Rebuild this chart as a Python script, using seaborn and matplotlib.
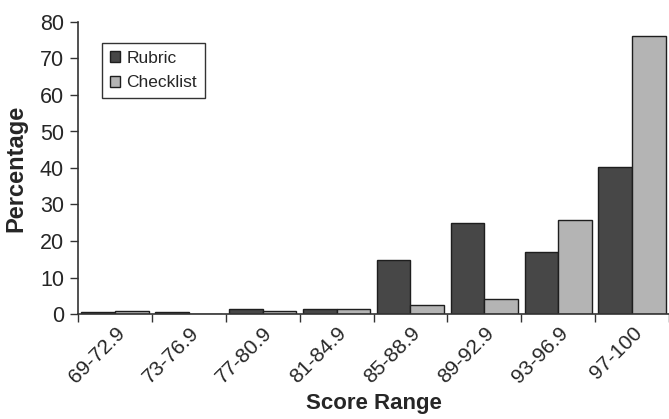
import matplotlib
matplotlib.use("Agg")
import matplotlib.pyplot as plt
import seaborn as sns
import pandas as pd
import numpy as np

# Score ranges and percentage of students in each range
score_ranges = ["69-72.9", "73-76.9", "77-80.9", "81-84.9",
                "85-88.9", "89-92.9", "93-96.9", "97-100"]
rubric = [0.6, 0.6, 1.3, 1.5, 14.7, 24.9, 17.0, 40.2]
checklist = [0.9, 0.0, 0.8, 1.5, 2.4, 4.0, 25.8, 76.2]
y_ticks = [0, 10, 20, 30, 40, 50, 60, 70, 80]

df = pd.DataFrame({
    "Score Range": score_ranges * 2,
    "Percentage": rubric + checklist,
    "Method": ["Rubric"] * len(score_ranges) + ["Checklist"] * len(score_ranges),
})

sns.set_style("white")
plt.rcParams["font.family"] = ["Liberation Sans", "DejaVu Sans"]

W, H = 669, 419
fig = plt.figure(figsize=(W / 100, H / 100), dpi=100)
ax = fig.add_axes([78 / W, (H - 314) / H, (W - 78) / W, (314 - 22) / H])

palette = {"Rubric": "#474747", "Checklist": "#b4b4b4"}
sns.barplot(data=df, x="Score Range", y="Percentage", hue="Method",
            order=score_ranges, hue_order=["Rubric", "Checklist"],
            palette=palette, width=0.91, edgecolor="#1e1e1e", linewidth=1.0,
            saturation=1, ax=ax)

ax.set_ylim(0, 80)
ax.set_yticks(y_ticks)
ax.set_xlim(-0.5, -0.5 + (W - 78) / 74.5)

# category boundaries carry the tick marks, centres carry the labels
n = len(score_ranges)
ax.set_xticks(np.arange(n + 1) - 0.5)
ax.set_xticklabels([])
ax.set_xticks(np.arange(n), minor=True)
ax.set_xticklabels(score_ranges, minor=True, rotation=45, ha="right",
                   rotation_mode="anchor", fontsize=15)
ax.tick_params(axis="x", which="major", direction="out", length=6,
               width=1, color="#333333", bottom=True)
ax.tick_params(axis="x", which="minor", length=0, pad=7)
ax.tick_params(axis="y", direction="out", length=6, width=1,
               color="#333333", left=True, labelsize=15.5, pad=4)

for s in ["top", "right"]:
    ax.spines[s].set_visible(False)
for s in ["left", "bottom"]:
    ax.spines[s].set_color("#333333")
    ax.spines[s].set_linewidth(1.2)

ax.set_xlabel("Score Range", fontsize=16, fontweight="bold", labelpad=4)
ax.set_ylabel("Percentage", fontsize=17, fontweight="bold", labelpad=9)

handles, labels = ax.get_legend_handles_labels()
leg = ax.legend(handles, labels, loc="upper left",
                bbox_to_anchor=(24 / (W - 78), 1 - 21 / 292),
                fontsize=12.5, frameon=True, fancybox=False,
                edgecolor="black", handlelength=0.6, handleheight=0.6,
                handletextpad=0.35, borderpad=0.45, labelspacing=0.55,
                borderaxespad=0)
leg.get_frame().set_linewidth(1.0)

fig.savefig("out.png", dpi=100)
